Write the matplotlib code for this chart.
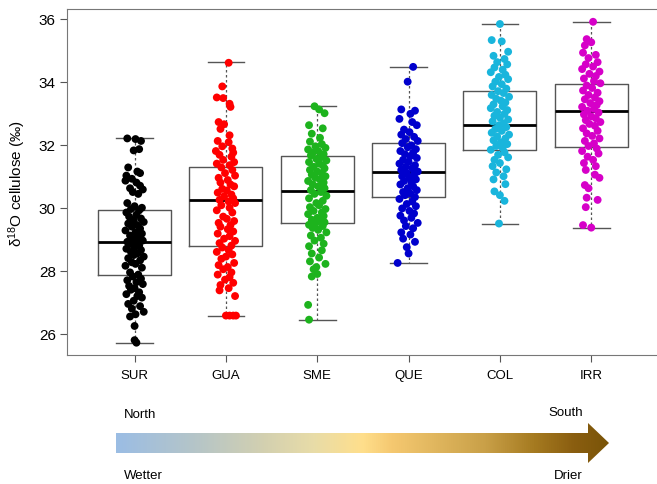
import numpy as np
import matplotlib
matplotlib.use('Agg')
import matplotlib.pyplot as plt
from matplotlib.colors import LinearSegmentedColormap
from matplotlib.patches import Polygon

plt.rcParams['font.family'] = ['Liberation Sans', 'DejaVu Sans']

sites = ['SUR', 'GUA', 'SME', 'QUE', 'COL', 'IRR']
colors = ['black', '#FF0000', '#1DB31D', '#0000CD', '#19B5DC', '#D600C8']

# box statistics
q1 = [27.88, 28.80, 29.52, 30.33, 31.84, 31.92]
med = [28.93, 30.25, 30.54, 31.14, 32.62, 33.06]
q3 = [29.94, 31.30, 31.65, 32.05, 33.70, 33.93]
whislo = [25.72, 26.57, 26.44, 28.24, 29.49, 29.37]
whishi = [32.20, 34.61, 33.22, 34.47, 35.83, 35.90]

# individual trees (y) and their jitter
sur_y = [32.20, 32.18, 32.12, 31.86, 31.82, 31.28, 31.15, 31.10, 31.02, 30.92, 30.86, 30.80,
         30.70, 30.62, 30.58, 30.50, 30.44, 30.15, 30.05, 30.00, 29.96, 29.92, 29.85, 29.78,
         29.72, 29.66, 29.60, 29.55, 29.50, 29.45, 29.40, 29.34, 29.28, 29.22, 29.18, 29.12,
         29.06, 29.00, 28.96, 28.92, 28.88, 28.84, 28.80, 28.75, 28.70, 28.66, 28.60, 28.55,
         28.50, 28.45, 28.40, 28.33, 28.27, 28.22, 28.16, 28.10, 27.95, 27.88, 27.82, 27.75,
         27.70, 27.64, 27.58, 27.52, 27.45, 27.40, 27.32, 27.26, 27.20, 27.15, 27.05, 26.95,
         26.88, 26.80, 26.70, 26.62, 26.55, 26.25, 25.80, 25.72]
gua_y = [34.60, 33.85, 33.50, 33.48, 33.30, 33.20, 32.72, 32.65, 32.50, 32.30, 32.12, 32.08,
         31.95, 31.88, 31.80, 31.75, 31.68, 31.62, 31.52, 31.45, 31.40, 31.35, 31.28, 31.20,
         31.10, 31.02, 30.95, 30.88, 30.80, 30.74, 30.68, 30.60, 30.55, 30.48, 30.42, 30.36,
         30.30, 30.25, 30.20, 30.15, 30.08, 30.00, 29.92, 29.85, 29.72, 29.65, 29.58, 29.52,
         29.45, 29.40, 29.32, 29.25, 29.18, 29.10, 29.02, 28.95, 28.88, 28.80, 28.74, 28.66,
         28.60, 28.52, 28.45, 28.38, 28.25, 28.18, 28.12, 28.05, 27.95, 27.88, 27.80, 27.72,
         27.62, 27.55, 27.45, 27.38, 27.20, 26.58, 26.58, 26.58, 26.58]
sme_y = [33.22, 33.12, 33.00, 32.62, 32.52, 32.35, 32.22, 32.10, 32.02, 31.95, 31.90, 31.85,
         31.80, 31.75, 31.70, 31.66, 31.60, 31.55, 31.50, 31.45, 31.40, 31.35, 31.30, 31.25,
         31.20, 31.15, 31.10, 31.05, 31.00, 30.95, 30.90, 30.85, 30.80, 30.74, 30.68, 30.62,
         30.56, 30.50, 30.44, 30.38, 30.30, 30.22, 30.15, 30.08, 30.02, 29.96, 29.90, 29.85,
         29.80, 29.74, 29.68, 29.62, 29.58, 29.54, 29.50, 29.46, 29.42, 29.36, 29.30, 29.22,
         29.12, 29.05, 28.96, 28.86, 28.78, 28.65, 28.55, 28.42, 28.30, 28.22, 28.12, 28.05,
         27.90, 27.82, 26.92, 26.45]
que_y = [34.47, 34.00, 33.12, 33.08, 32.98, 32.82, 32.72, 32.62, 32.48, 32.40, 32.32, 32.25,
         32.18, 32.12, 32.05, 31.98, 31.92, 31.86, 31.80, 31.75, 31.70, 31.64, 31.58, 31.52,
         31.46, 31.40, 31.35, 31.30, 31.25, 31.20, 31.15, 31.10, 31.05, 31.00, 30.95, 30.90,
         30.85, 30.80, 30.74, 30.68, 30.62, 30.56, 30.50, 30.45, 30.40, 30.34, 30.28, 30.20,
         30.12, 30.05, 29.98, 29.90, 29.82, 29.75, 29.68, 29.60, 29.52, 29.42, 29.35, 29.22,
         29.15, 29.02, 28.92, 28.75, 28.55, 28.25]
col_y = [35.83, 35.32, 35.28, 34.95, 34.82, 34.72, 34.62, 34.55, 34.45, 34.38, 34.30, 34.22,
         34.15, 34.08, 34.00, 33.92, 33.85, 33.78, 33.70, 33.64, 33.58, 33.52, 33.46, 33.40,
         33.34, 33.28, 33.22, 33.16, 33.10, 33.04, 32.98, 32.92, 32.86, 32.80, 32.74, 32.68,
         32.62, 32.56, 32.50, 32.44, 32.38, 32.32, 32.26, 32.20, 32.14, 32.08, 32.02, 31.96,
         31.90, 31.84, 31.76, 31.68, 31.60, 31.52, 31.42, 31.32, 31.22, 31.12, 31.00, 30.90,
         30.75, 30.52, 30.40, 30.22, 29.50]
irr_y = [35.90, 35.35, 35.25, 35.15, 34.92, 34.85, 34.75, 34.62, 34.55, 34.48, 34.40, 34.32,
         34.25, 34.18, 34.10, 34.02, 33.95, 33.88, 33.80, 33.72, 33.65, 33.58, 33.50, 33.44,
         33.38, 33.32, 33.26, 33.20, 33.14, 33.08, 33.02, 32.96, 32.90, 32.84, 32.78, 32.72,
         32.66, 32.60, 32.52, 32.44, 32.36, 32.28, 32.20, 32.12, 32.04, 31.96, 31.88, 31.80,
         31.72, 31.62, 31.52, 31.42, 31.32, 31.20, 31.05, 30.95, 30.72, 30.62, 30.32, 30.25,
         30.02, 29.45, 29.37]

sur_jit = [-0.08, 0.01, 0.07, 0.05, -0.01, -0.07, 0.03, 0.06, -0.09, -0.03, -0.10, 0.02,
           0.06, -0.05, 0.09, -0.02, 0.04, -0.08, 0.00, 0.08, -0.04, 0.05, -0.09, 0.02,
           -0.06, 0.07, -0.01, 0.10, -0.07, 0.03, -0.03, 0.06, -0.10, 0.01, 0.08, -0.05,
           0.04, -0.02, 0.09, -0.08, 0.02, -0.06, 0.05, 0.00, -0.09, 0.07, -0.04, 0.03,
           -0.01, 0.10, -0.07, 0.06, -0.03, 0.01, -0.10, 0.08, -0.05, 0.04, -0.02, 0.07,
           -0.08, 0.02, 0.09, -0.06, 0.00, -0.04, 0.05, -0.09, 0.03, 0.08, -0.01, -0.07,
           0.06, -0.03, 0.10, 0.01, -0.05, 0.00, 0.00, 0.02]
gua_jit = [0.03, -0.04, -0.10, -0.03, 0.04, 0.05, -0.08, -0.02, -0.06, 0.04, -0.09, 0.03,
           -0.04, 0.07, -0.11, 0.08, -0.07, 0.06, -0.03, 0.09, -0.10, 0.04, -0.05, 0.07,
           -0.01, 0.10, -0.08, 0.02, -0.06, 0.05, 0.09, -0.04, 0.01, -0.09, 0.06, -0.02,
           0.08, -0.07, 0.03, 0.10, -0.05, 0.04, -0.10, 0.07, -0.03, 0.01, 0.09, -0.08,
           0.05, -0.06, 0.02, 0.08, -0.09, 0.04, -0.02, 0.10, -0.07, 0.06, -0.04, 0.03,
           -0.10, 0.07, 0.00, -0.05, 0.09, -0.08, 0.02, -0.03, 0.06, -0.09, 0.04, -0.01,
           0.08, -0.06, 0.03, -0.07, 0.10, 0.00, 0.04, 0.08, 0.11]
sme_jit = [-0.03, 0.02, 0.08, -0.09, 0.06, -0.06, 0.03, -0.08, 0.05, -0.02, 0.09, -0.10,
           0.01, -0.05, 0.07, -0.07, 0.04, -0.01, 0.10, -0.09, 0.02, 0.06, -0.04, 0.08,
           -0.08, 0.00, 0.05, -0.06, 0.09, -0.02, 0.03, -0.10, 0.07, -0.05, 0.01, 0.08,
           -0.07, 0.04, -0.03, 0.10, -0.09, 0.06, -0.01, 0.02, -0.08, 0.09, -0.04, 0.05,
           -0.10, 0.07, 0.00, -0.06, 0.03, 0.08, -0.02, -0.09, 0.06, -0.05, 0.01, 0.10,
           -0.07, 0.04, -0.03, 0.07, -0.09, 0.05, -0.06, 0.02, -0.08, 0.09, -0.01, -0.04,
           0.00, -0.06, -0.10, -0.09]
que_jit = [0.05, -0.01, -0.08, 0.07, 0.02, -0.10, 0.04, 0.09, -0.05, 0.01, -0.08, 0.06,
           -0.03, 0.10, -0.07, 0.03, -0.01, 0.08, -0.09, 0.05, -0.04, 0.02, 0.09, -0.06,
           0.00, -0.10, 0.07, -0.03, 0.04, -0.08, 0.10, -0.02, 0.06, -0.07, 0.01, 0.08,
           -0.05, 0.03, -0.09, 0.05, -0.01, 0.09, -0.06, 0.02, -0.04, 0.07, -0.10, 0.04,
           -0.02, 0.08, -0.07, 0.01, 0.06, -0.09, 0.03, -0.05, 0.10, -0.03, 0.05, -0.08,
           0.02, -0.06, 0.07, -0.02, 0.00, -0.12]
col_jit = [0.00, -0.09, 0.02, 0.09, -0.07, 0.05, -0.03, 0.08, -0.06, 0.03, -0.10, 0.06,
           -0.01, 0.09, -0.05, 0.02, -0.08, 0.07, -0.02, 0.04, -0.09, 0.10, -0.04, 0.01,
           0.06, -0.07, 0.03, -0.10, 0.08, -0.03, 0.05, -0.06, 0.00, 0.09, -0.08, 0.04,
           -0.01, 0.07, -0.05, 0.02, -0.09, 0.10, -0.03, 0.06, -0.07, 0.01, 0.08, -0.04,
           0.03, -0.10, 0.05, -0.02, 0.09, -0.06, 0.00, -0.08, 0.07, -0.04, 0.04, -0.07,
           0.06, -0.06, 0.00, 0.05, -0.01]
irr_jit = [0.02, -0.05, 0.00, -0.07, -0.09, 0.05, -0.03, 0.07, -0.06, 0.02, -0.10, 0.09,
           -0.02, 0.05, -0.08, 0.03, 0.10, -0.05, 0.01, -0.09, 0.07, -0.03, 0.04, -0.07,
           0.09, -0.01, 0.06, -0.10, 0.03, -0.04, 0.08, -0.08, 0.00, 0.05, -0.06, 0.10,
           -0.02, 0.04, -0.09, 0.07, -0.05, 0.01, 0.09, -0.07, 0.03, -0.03, 0.06, -0.10,
           0.08, -0.04, 0.02, -0.08, 0.05, -0.06, 0.04, 0.09, -0.07, -0.03, -0.05, 0.07,
           -0.06, -0.09, 0.00]

points_y = [sur_y, gua_y, sme_y, que_y, col_y, irr_y]
points_jit = [sur_jit, gua_jit, sme_jit, que_jit, col_jit, irr_jit]

fig = plt.figure(figsize=(6.57, 4.85), dpi=100)
ax = fig.add_axes([0.102, 0.266, 0.898, 0.713])

stats = []
for i, s in enumerate(sites):
    stats.append(dict(label=s, q1=q1[i], med=med[i], q3=q3[i],
                      whislo=whislo[i], whishi=whishi[i], fliers=[]))
pos = np.arange(1, len(sites) + 1)
ax.bxp(stats, positions=pos, widths=0.8, showfliers=False,
       boxprops=dict(color='#555555', linewidth=1.0),
       medianprops=dict(color='black', linewidth=2.0),
       whiskerprops=dict(color='#555555', linewidth=0.9, linestyle=(0, (2, 2))),
       capprops=dict(color='#555555', linewidth=1.0), capwidths=0.4)

for i in range(len(sites)):
    xs = [pos[i] + d for d, _ in zip(points_jit[i], points_y[i])]
    ys = points_y[i][:len(xs)]
    ax.scatter(xs, ys, s=32, color=colors[i], edgecolors='none', zorder=3)

ax.set_xlim(0.26, 6.72)
ax.set_ylim(25.33, 36.3)
ax.set_yticks([26, 28, 30, 32, 34, 36])
ax.set_xticks(pos)
ax.set_xticklabels(sites, fontsize=9.5)
ax.tick_params(axis='y', labelsize=11, length=5, color='#555555', pad=3)
ax.tick_params(axis='x', length=5, color='#555555', pad=5)
ax.spines['right'].set_visible(False)
for sp in ['left', 'bottom', 'top']:
    ax.spines[sp].set_color('#777777')
ax.set_ylabel(r'$\mathregular{δ^{18}}$O cellulose (‰)', fontsize=11, labelpad=8)

# gradient arrow beneath the chart (figure pixel coordinates)
ov = fig.add_axes([0, 0, 1, 1])
ov.set_xlim(0, 657)
ov.set_ylim(485, 0)
ov.axis('off')
grad = LinearSegmentedColormap.from_list('n2s', [
    (0.0, '#9BBDE4'), (0.16, '#B5C5C8'), (0.3, '#D3D0B0'), (0.4, '#E8DCA8'),
    (0.5, '#FFDF8C'), (0.56, '#F5C870'), (0.64, '#E2B860'), (0.75, '#C9A048'),
    (0.85, '#A57A20'), (0.93, '#8A5E10'), (1.0, '#7A5408')])
arrow = Polygon([(116, 434), (588, 434), (588, 424), (609, 444), (588, 464),
                 (588, 454), (116, 454)], closed=True, facecolor='none', edgecolor='none')
ov.add_patch(arrow)
im = ov.imshow(np.linspace(0, 1, 512).reshape(1, -1), cmap=grad, aspect='auto',
               extent=(116, 609, 464, 424))
im.set_clip_path(arrow)
ov.text(124, 415, 'North', fontsize=9.5, va='center', ha='left')
ov.text(566, 413, 'South', fontsize=9.5, va='center', ha='center')
ov.text(124, 476, 'Wetter', fontsize=9.5, va='center', ha='left')
ov.text(568, 476, 'Drier', fontsize=9.5, va='center', ha='center')

fig.savefig('out.png', dpi=100)
